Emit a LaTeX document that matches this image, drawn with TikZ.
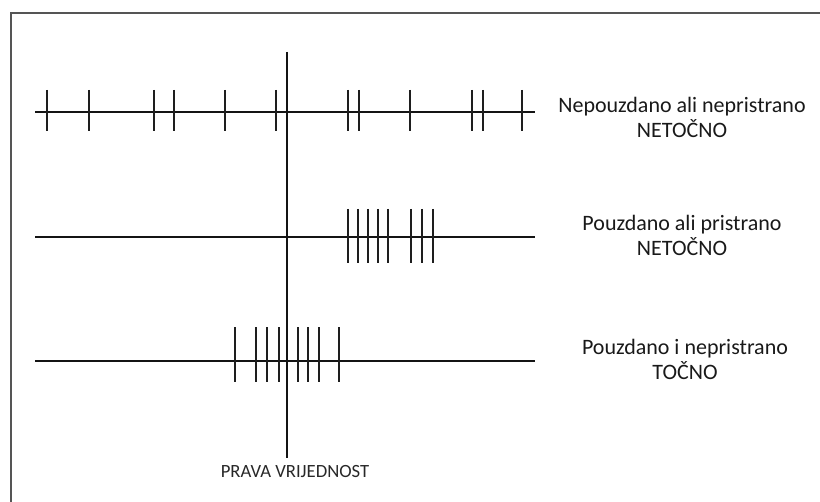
\documentclass[tikz,border=0pt]{standalone}
\usepackage{fontspec}
\setmainfont{Carlito}

\tikzset{every picture/.style={line width=0.75pt}}
\tikzset{
  axisline/.style={line width=1.6pt, color={rgb, 255:red, 20; green, 20; blue, 20}},
  tickline/.style={line width=1.5pt, color={rgb, 255:red, 30; green, 30; blue, 30}},
  rowlabel/.style={font=\fontsize{16.5}{18.75}\selectfont, align=center, inner sep=0pt, text={rgb, 255:red, 25; green, 25; blue, 25}},
  framecol/.style={line width=2pt, color={rgb, 255:red, 85; green, 85; blue, 85}}
}

\begin{document}
\begin{tikzpicture}[x=0.75pt,y=0.75pt,yscale=-1,xscale=1]
\useasboundingbox (0,0) rectangle (820,502);

%Shape: Frame (left and top edges)
\draw [framecol] (11,502) -- (11,13) -- (820,13) ;

%Straight Lines: row axes
\coordinate (r1a) at (35,112);  \coordinate (r1b) at (535,112);
\coordinate (r2a) at (35,237);  \coordinate (r2b) at (535,237);
\coordinate (r3a) at (35,361);  \coordinate (r3b) at (535,361);
\draw [axisline] (r1a) -- (r1b) ;
\draw [axisline] (r2a) -- (r2b) ;
\draw [axisline] (r3a) -- (r3b) ;

%Straight Lines: true value
\coordinate (truetop) at (287,52);
\coordinate (truebot) at (287,458);
\draw [axisline] (truetop) -- (truebot) ;

%Ticks: row 1
\foreach \tx in {47,89,154,174,225,276,348,359,410,472,483,522}
  \draw [tickline] (\tx,90) -- (\tx,131) ;
%Ticks: row 2
\foreach \tx in {348,358,368,378,388,411,422,433}
  \draw [tickline] (\tx,209) -- (\tx,263) ;
%Ticks: row 3
\foreach \tx in {235,256,267,279,298,308,319,339}
  \draw [tickline] (\tx,327) -- (\tx,382) ;

% Text Node
\node [rowlabel] (lbl1) at (682,117.5) {Nepouzdano ali nepristrano\\NETOČNO};
% Text Node
\node [rowlabel] (lbl2) at (682,235.5) {Pouzdano ali pristrano\\NETOČNO};
% Text Node
\node [rowlabel] (lbl3) at (685,359.5) {Pouzdano i nepristrano\\TOČNO};
% Text Node
\node [font=\fontsize{14}{16}\selectfont, inner sep=0pt, text={rgb, 255:red, 40; green, 40; blue, 40}] (truelbl) at (295,472) {PRAVA VRIJEDNOST};

\end{tikzpicture}
\end{document}
